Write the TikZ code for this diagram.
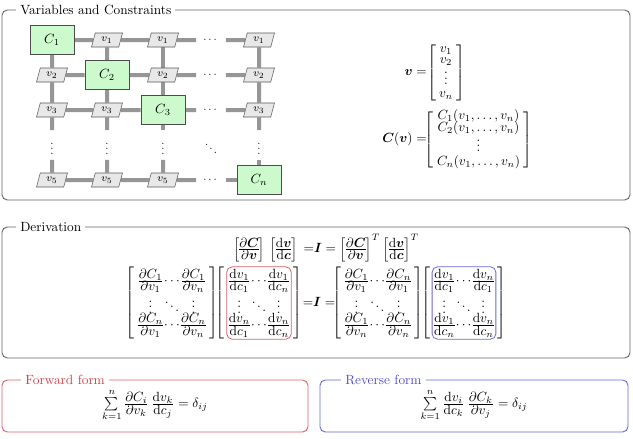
\documentclass[tikz,border=0pt]{standalone}
\usepackage{amsmath,amssymb,bm}
\usetikzlibrary{shapes.geometric,matrix,backgrounds}
\definecolor{fwd}{RGB}{214,64,72}
\definecolor{fwdline}{RGB}{222,96,104}
\definecolor{rev}{RGB}{80,80,214}
\definecolor{revline}{RGB}{104,104,224}
\definecolor{cgreen}{RGB}{204,250,204}
\definecolor{vgray}{RGB}{232,232,232}
\definecolor{wire}{RGB}{150,150,150}
\newcommand{\tfr}[2]{\genfrac{}{}{}{1}{\textstyle #1}{\textstyle #2}}
\newcommand{\nodelimsp}{\nulldelimiterspace=0pt\relax}
\tikzset{
  frame/.style={draw=black!60, line width=0.7pt, rounded corners=4pt},
  paneltitle/.style={fill=white, anchor=west, inner xsep=3pt, inner ysep=1pt},
  cbox/.style={draw=black!70, fill=cgreen, minimum width=33pt, minimum height=22pt, inner sep=0pt, line width=0.5pt},
  vbox/.style={trapezium, trapezium left angle=75, trapezium right angle=105, draw=black!65, fill=vgray, minimum width=15pt, minimum height=10.5pt, inner sep=0.5pt, font=\footnotesize, line width=0.4pt},
  dotsnode/.style={minimum width=22pt, minimum height=22pt, inner sep=0pt, font=\footnotesize},
  wirestyle/.style={draw=wire, line width=3pt},
  tightmath/.style={font=\nodelimsp},
  mat/.style={matrix of math nodes, ampersand replacement=\&, left delimiter={[}, right delimiter={]}, nodes={inner sep=0pt, draw=none, fill=none, tightmath}, column sep=1pt, row sep=0pt, inner sep=1.5pt},
  colmat/.style={matrix of math nodes, ampersand replacement=\&, left delimiter={[}, right delimiter={]}, inner sep=1pt},
  eqlabel/.style={anchor=east, inner sep=0pt},
}
\begin{document}
\begin{tikzpicture}[x=0.75pt, y=-0.75pt]
\useasboundingbox (0,0) rectangle (633,439);

% ---------- Panel 1 ----------
\draw[frame] (2,10) rectangle (630,200);
\node[paneltitle] (t1) at (16,10) {Variables and Constraints};

% grid nodes
\node[cbox] (C1) at (52,40) {$C_1$};
\node[vbox] (v12) at (107,40) {$v_1$};
\node[vbox] (v13) at (163,40) {$v_1$};
\node[dotsnode] (h1) at (211,40) {$\cdots$};
\node[vbox] (v15) at (259,40) {$v_1$};

\node[vbox] (v21) at (52,75) {$v_2$};
\node[cbox] (C2) at (107,75) {$C_2$};
\node[vbox] (v23) at (163,75) {$v_2$};
\node[dotsnode] (h2) at (211,75) {$\cdots$};
\node[vbox] (v25) at (259,75) {$v_2$};

\node[vbox] (v31) at (52,110) {$v_3$};
\node[vbox] (v32) at (107,110) {$v_3$};
\node[cbox] (C3) at (163,110) {$C_3$};
\node[dotsnode] (h3) at (211,110) {$\cdots$};
\node[vbox] (v35) at (259,110) {$v_3$};

\node[dotsnode] (d1) at (52,145) {$\vdots$};
\node[dotsnode] (d2) at (107,145) {$\vdots$};
\node[dotsnode] (d3) at (163,145) {$\vdots$};
\node[dotsnode] (dd) at (211,145) {$\ddots$};
\node[dotsnode] (d5) at (259,145) {$\vdots$};

\node[vbox] (v51) at (52,180) {$v_5$};
\node[vbox] (v52) at (107,180) {$v_5$};
\node[vbox] (v53) at (163,180) {$v_5$};
\node[dotsnode] (h5) at (211,180) {$\cdots$};
\node[cbox] (Cn) at (259,180) {$C_n$};

\begin{pgfonlayer}{background}
  \fill[white] (0,0) rectangle (633,439);
  \draw[wirestyle] (C1) -- (v12) -- (v13) -- (h1);
  \draw[wirestyle] (h1) -- (v15);
  \draw[wirestyle] (v21) -- (C2) -- (v23) -- (h2);
  \draw[wirestyle] (h2) -- (v25);
  \draw[wirestyle] (v31) -- (v32) -- (C3) -- (h3);
  \draw[wirestyle] (h3) -- (v35);
  \draw[wirestyle] (v51) -- (v52) -- (v53) -- (h5);
  \draw[wirestyle] (h5) -- (Cn);
  \draw[wirestyle] (C1) -- (v21) -- (v31) -- (d1);
  \draw[wirestyle] (d1) -- (v51);
  \draw[wirestyle] (v12) -- (C2) -- (v32) -- (d2);
  \draw[wirestyle] (d2) -- (v52);
  \draw[wirestyle] (v13) -- (v23) -- (C3) -- (d3);
  \draw[wirestyle] (d3) -- (v53);
  \draw[wirestyle] (v15) -- (v25) -- (v35) -- (d5);
  \draw[wirestyle] (d5) -- (Cn);
\end{pgfonlayer}

% vectors
\matrix (Vm) at (446,73) [colmat, nodes={inner sep=0pt, text height=4.5pt, text depth=1.5pt}, row sep=2.25pt,
   row 3/.style={nodes={text height=12pt, text depth=3pt}}] {
  v_1 \\ v_2 \\ \vdots \\ v_n \\
};
\node[eqlabel] (vlab) at (427,73) {$\bm v =$};

\matrix (Cm) at (478.5,139.5) [colmat, nodes={inner sep=0pt, text height=6pt, text depth=2pt}, row sep=1pt,
   row 3/.style={nodes={text height=12.5pt, text depth=3pt}}] {
  C_1(v_1,\dots,v_n) \\ C_2(v_1,\dots,v_n) \\ \vdots \\ C_n(v_1,\dots,v_n) \\
};
\node[eqlabel] (Clab) at (427,139.5) {$\bm C(\bm v) =$};

% ---------- Panel 2 ----------
\draw[frame] (2,227) rectangle (630,358);
\node[paneltitle] (t2) at (16,227) {Derivation};

\node[tightmath] (eqTop) at (326,248) {$\left[\tfr{\partial \bm C}{\partial \bm v}\right]\,\left[\tfr{\mathrm d\bm v}{\mathrm d\bm c}\right]\;{=}\bm I = \left[\tfr{\partial \bm C}{\partial \bm v}\right]^T\left[\tfr{\mathrm d\bm v}{\mathrm d\bm c}\right]^T$};

\matrix (M1) at (172,303) [mat] {
  \tfr{\partial C_1}{\partial v_1} \& \cdots \& \tfr{\partial C_1}{\partial v_n} \\
  \vdots \& \ddots \& \vdots \\
  \tfr{\partial C_n}{\partial v_1} \& \cdots \& \tfr{\partial C_n}{\partial v_n} \\
};
\matrix (M2) at (259,303) [mat, draw=fwdline, rounded corners=4pt, line width=0.6pt] {
  \tfr{\mathrm d v_1}{\mathrm d c_1} \& \cdots \& \tfr{\mathrm d v_1}{\mathrm d c_n} \\
  \vdots \& \ddots \& \vdots \\
  \tfr{\mathrm d v_n}{\mathrm d c_1} \& \cdots \& \tfr{\mathrm d v_n}{\mathrm d c_n} \\
};
\node (eqI) at (319,302) {${=}\bm I =$};
\matrix (M3) at (378,303) [mat] {
  \tfr{\partial C_1}{\partial v_1} \& \cdots \& \tfr{\partial C_n}{\partial v_1} \\
  \vdots \& \ddots \& \vdots \\
  \tfr{\partial C_1}{\partial v_n} \& \cdots \& \tfr{\partial C_n}{\partial v_n} \\
};
\matrix (M4) at (464,303) [mat, draw=revline, rounded corners=4pt, line width=0.6pt] {
  \tfr{\mathrm d v_1}{\mathrm d c_1} \& \cdots \& \tfr{\mathrm d v_n}{\mathrm d c_1} \\
  \vdots \& \ddots \& \vdots \\
  \tfr{\mathrm d v_1}{\mathrm d c_n} \& \cdots \& \tfr{\mathrm d v_n}{\mathrm d c_n} \\
};

% ---------- Panel 3: forward / reverse ----------
\draw[frame, draw=fwdline] (2,380) rectangle (308,432);
\node[paneltitle, text=fwd] (t3) at (21,380) {Forward form};
\node (eqF) at (155,405) {$\sum\limits_{k=1}^{n}\tfr{\partial C_i}{\partial v_k}\,\tfr{\mathrm d v_k}{\mathrm d c_j} = \delta_{ij}$};

\draw[frame, draw=revline] (320,380) rectangle (628,432);
\node[paneltitle, text=rev] (t4) at (341,380) {Reverse form};
\node (eqR) at (474,405) {$\sum\limits_{k=1}^{n}\tfr{\mathrm d v_i}{\mathrm d c_k}\,\tfr{\partial C_k}{\partial v_j} = \delta_{ij}$};
\end{tikzpicture}
\end{document}
